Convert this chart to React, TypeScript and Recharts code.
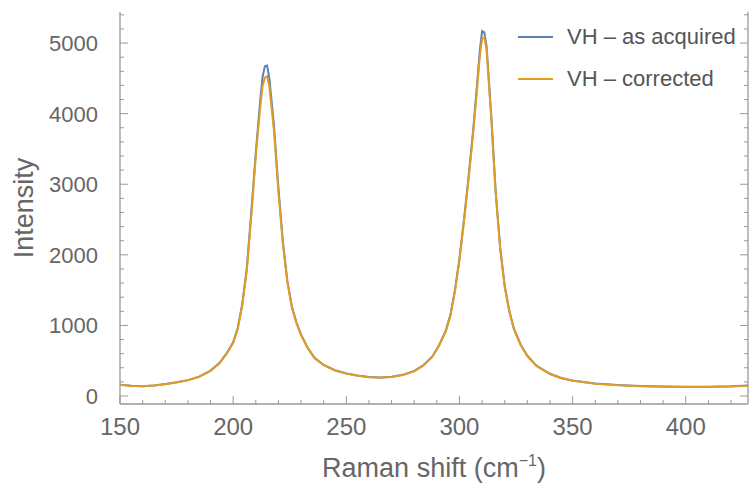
import { Line, LineChart, XAxis, YAxis } from "recharts";

// Raman shift (cm^-1)
const shifts = [
  150, 155, 160, 165, 170, 175, 180, 185, 190, 194, 197, 200, 202, 204, 206, 208, 210, 212, 213, 214,
  215, 216, 218, 220, 222, 224, 226, 228, 230, 233, 236, 240, 245, 250, 255, 260, 265, 270, 275, 280,
  284, 288, 291, 294, 296, 298, 300, 302, 304, 306, 308, 309, 310, 311, 312, 314, 316, 318, 320, 322,
  324, 327, 330, 334, 340, 345, 350, 360, 370, 380, 390, 400, 410, 420, 428,
];

const asAcquired = [
  160, 145, 140, 150, 170, 195, 225, 275, 360, 470, 600, 760, 960, 1300, 1800, 2600, 3450, 4200, 4520, 4670,
  4680, 4500, 3850, 2950, 2180, 1620, 1260, 1040, 870, 680, 540, 440, 365, 320, 290, 268, 262, 272, 300, 355,
  435, 560, 720, 930, 1150, 1500, 1950, 2500, 3100, 3750, 4500, 4900, 5170, 5150, 4950, 4000, 2900, 2100, 1560, 1210,
  960, 730, 570, 430, 315, 255, 220, 178, 155, 142, 134, 130, 132, 138, 150,
];

const corrected = [
  158, 143, 138, 148, 168, 192, 222, 272, 356, 465, 592, 750, 945, 1280, 1770, 2540, 3400, 4100, 4390, 4510,
  4530, 4380, 3770, 2890, 2140, 1600, 1245, 1030, 862, 675, 536, 436, 362, 317, 287, 265, 259, 269, 297, 351,
  430, 553, 712, 920, 1135, 1480, 1925, 2470, 3060, 3700, 4430, 4820, 5060, 5080, 4900, 3960, 2880, 2085, 1548, 1200,
  952, 724, 565, 426, 312, 252, 217, 175, 152, 139, 131, 127, 129, 135, 147,
];

const xTicks = [150, 160, 170, 180, 190, 200, 210, 220, 230, 240, 250, 260, 270, 280, 290, 300, 310, 320, 330, 340, 350, 360, 370, 380, 390, 400, 410, 420];
const yTicks = [0, 200, 400, 600, 800, 1000, 1200, 1400, 1600, 1800, 2000, 2200, 2400, 2600, 2800, 3000, 3200, 3400, 3600, 3800, 4000, 4200, 4400, 4600, 4800, 5000, 5200, 5400];

const seriesNames = ["VH \u2013 as acquired", "VH \u2013 corrected"];
const seriesColors = ["#5e81b5", "#e19c24"];

const data = shifts.map((s, i) => ({ shift: s, acquired: asAcquired[i], corrected: corrected[i] }));

const FRAME = "#999999";
const TEXT = "#666666";
const FONT = "'Liberation Sans', Arial, sans-serif";

function BottomTick({ x, y, payload }: any) {
  const major = payload.value % 50 === 0;
  return (
    <g>
      <line x1={x} y1={y} x2={x} y2={y - (major ? 8 : 4)} stroke={FRAME} />
      {major && (
        <text x={x} y={y + 31} textAnchor="middle" fill={TEXT} fontSize={24} fontFamily={FONT}>
          {payload.value}
        </text>
      )}
    </g>
  );
}

function TopTick({ x, y, payload }: any) {
  const major = payload.value % 50 === 0;
  return <line x1={x} y1={y} x2={x} y2={y + (major ? 8 : 4)} stroke={FRAME} />;
}

function LeftTick({ x, y, payload }: any) {
  const major = payload.value % 1000 === 0;
  return (
    <g>
      <line x1={x} y1={y} x2={x + (major ? 8 : 4)} y2={y} stroke={FRAME} />
      {major && (
        <text x={x - 22} y={y + 8} textAnchor="end" fill={TEXT} fontSize={22} fontFamily={FONT}>
          {payload.value}
        </text>
      )}
    </g>
  );
}

function RightTick({ x, y, payload }: any) {
  const major = payload.value % 1000 === 0;
  return <line x1={x} y1={y} x2={x - (major ? 8 : 4)} y2={y} stroke={FRAME} />;
}

export default function App() {
  return (
    <div style={{ position: "absolute", left: 0, top: 0, width: 750, height: 495, background: "#fff" }}>
      <LineChart width={750} height={495} data={data} margin={{ top: 12, right: 0, bottom: 0, left: 0 }}>
        <XAxis
          xAxisId="bottom"
          dataKey="shift"
          type="number"
          domain={[150, 427.5]}
          allowDataOverflow
          ticks={xTicks}
          interval={0}
          height={91}
          tickSize={0}
          tickMargin={0}
          tickLine={false}
          axisLine={{ stroke: FRAME, strokeWidth: 1.3 }}
          tick={<BottomTick />}
        />
        <XAxis
          xAxisId="top"
          orientation="top"
          dataKey="shift"
          type="number"
          domain={[150, 427.5]}
          allowDataOverflow
          ticks={xTicks}
          interval={0}
          height={0}
          tickSize={0}
          tickMargin={0}
          tickLine={false}
          axisLine={{ stroke: FRAME, strokeWidth: 1.3 }}
          tick={<TopTick />}
        />
        <YAxis
          yAxisId="left"
          type="number"
          domain={[-113, 5440]}
          allowDataOverflow
          ticks={yTicks}
          interval={0}
          width={120}
          tickSize={0}
          tickMargin={0}
          tickLine={false}
          axisLine={{ stroke: FRAME, strokeWidth: 1.3 }}
          tick={<LeftTick />}
        />
        <YAxis
          yAxisId="right"
          orientation="right"
          type="number"
          domain={[-113, 5440]}
          allowDataOverflow
          ticks={yTicks}
          interval={0}
          width={2}
          tickSize={0}
          tickMargin={0}
          tickLine={false}
          axisLine={{ stroke: FRAME, strokeWidth: 1.3 }}
          tick={<RightTick />}
        />
        <Line
          xAxisId="bottom"
          yAxisId="left"
          type="linear"
          dataKey="acquired"
          name={seriesNames[0]}
          stroke={seriesColors[0]}
          strokeWidth={2}
          dot={false}
          isAnimationActive={false}
        />
        <Line
          xAxisId="bottom"
          yAxisId="left"
          type="linear"
          dataKey="corrected"
          name={seriesNames[1]}
          stroke={seriesColors[1]}
          strokeWidth={2}
          dot={false}
          isAnimationActive={false}
        />
      </LineChart>
      <div
        style={{
          position: "absolute",
          left: 434,
          top: 452,
          transform: "translateX(-50%)",
          fontFamily: FONT,
          fontSize: 27,
          lineHeight: "32px",
          color: TEXT,
          whiteSpace: "nowrap",
        }}
      >
        Raman shift (cm<sup style={{ fontSize: 16, verticalAlign: "11px", lineHeight: 0 }}>{"\u22121"}</sup>)
      </div>
      <div
        style={{
          position: "absolute",
          left: 24,
          top: 208,
          transform: "translate(-50%, -50%) rotate(-90deg)",
          fontFamily: FONT,
          fontSize: 27,
          lineHeight: "32px",
          color: TEXT,
          whiteSpace: "nowrap",
        }}
      >
        Intensity
      </div>
      <div
        style={{
          position: "absolute",
          left: 518,
          top: 16,
          fontFamily: FONT,
          fontSize: 22,
          color: "#555",
          lineHeight: "42px",
        }}
      >
        {seriesNames.map((n, i) => (
          <div key={n} style={{ display: "flex", alignItems: "center", whiteSpace: "nowrap" }}>
            <span style={{ display: "inline-block", width: 35, height: 2, background: seriesColors[i], marginRight: 14 }} />
            {n}
          </div>
        ))}
      </div>
    </div>
  );
}
